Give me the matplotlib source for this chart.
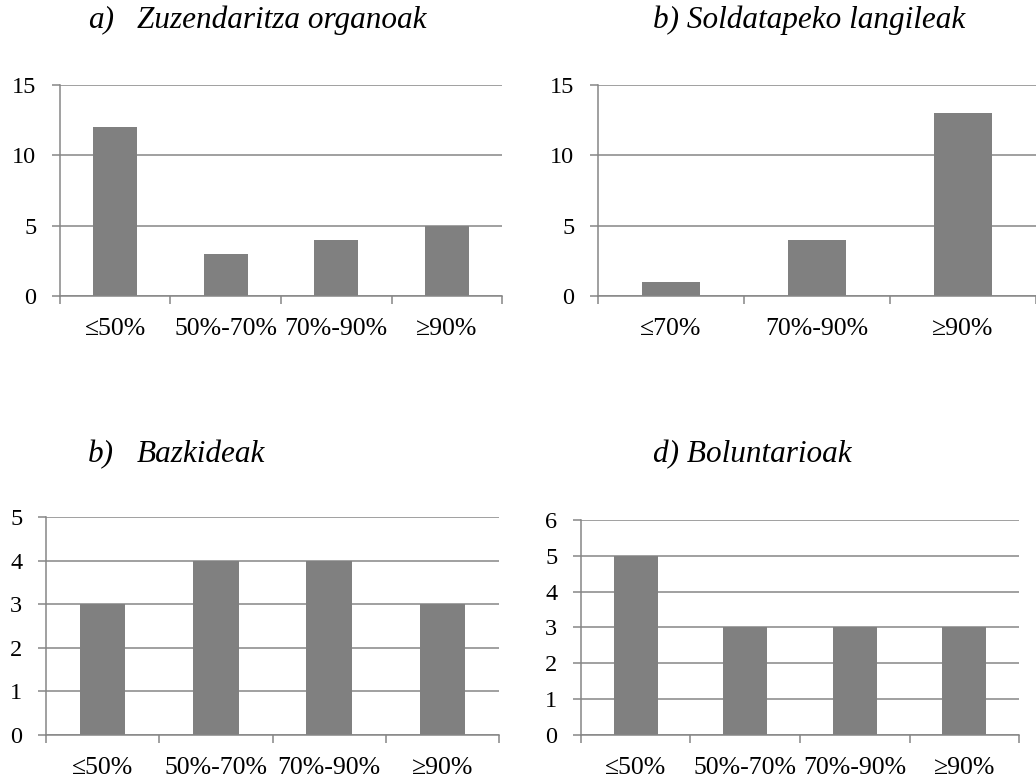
import matplotlib
matplotlib.use("Agg")
import matplotlib.pyplot as plt
from matplotlib.ticker import FixedLocator

plt.rcParams["font.family"] = ["Liberation Serif", "DejaVu Serif"]

# Kategoriak eta balioak (lau taldeak)
cats4 = ["≤50%", "50%-70%", "70%-90%", "≥90%"]
cats3 = ["≤70%", "70%-90%", "≥90%"]

zuzendaritza = [12, 3, 4, 5]
soldatapeko = [1, 4, 13]
bazkideak = [3, 4, 4, 3]
boluntarioak = [5, 3, 3, 3]

GRAY = "#868686"
BAR = "#808080"

fig = plt.figure(figsize=(10.36, 7.83), dpi=100)


def panel(rect, cats, vals, ymax, ystep):
    ax = fig.add_axes(rect)
    x = range(len(cats))
    ax.bar(x, vals, width=0.4, color=BAR, zorder=3)
    ax.set_xlim(-0.5, len(cats) - 0.5)
    ax.set_ylim(0, ymax)
    ax.set_yticks(range(0, ymax + 1, ystep))
    ax.set_xticks(list(x))
    ax.set_xticklabels(cats)
    ax.xaxis.set_minor_locator(FixedLocator([i - 0.5 for i in range(len(cats) + 1)]))
    ax.tick_params(axis="x", which="major", length=0, pad=16, labelsize=18.5)
    ax.tick_params(axis="x", which="minor", length=6, width=1.1, color=GRAY)
    ax.tick_params(axis="y", length=6, width=1.1, color=GRAY, pad=11, labelsize=17.5)
    ax.yaxis.grid(True, color=GRAY, linewidth=1.1, zorder=0)
    for s in ("top", "right"):
        ax.spines[s].set_visible(False)
    for s in ("left", "bottom"):
        ax.spines[s].set_color(GRAY)
        ax.spines[s].set_linewidth(1.1)
    ax.spines["bottom"].set_zorder(4)
    return ax


panel([0.0579, 0.6220, 0.4267, 0.2694], cats4, zuzendaritza, 15, 5)
panel([0.5772, 0.6220, 0.4228, 0.2694], cats3, soldatapeko, 15, 5)
panel([0.0444, 0.0613, 0.4373, 0.2784], cats4, bazkideak, 5, 1)
panel([0.5608, 0.0613, 0.4228, 0.2746], cats4, boluntarioak, 6, 1)

tkw = dict(fontsize=22.5, style="italic", va="center", ha="left")
fig.text(88 / 1036, 1 - 20 / 783, "a)", **tkw)
fig.text(137 / 1036, 1 - 20 / 783, "Zuzendaritza organoak", **tkw)
fig.text(653 / 1036, 1 - 20 / 783, "b) Soldatapeko langileak", **tkw)
fig.text(88 / 1036, 1 - 455 / 783, "b)", **tkw)
fig.text(137 / 1036, 1 - 455 / 783, "Bazkideak", **tkw)
fig.text(653 / 1036, 1 - 455 / 783, "d) Boluntarioak", **tkw)

fig.savefig("out.png", dpi=100)
